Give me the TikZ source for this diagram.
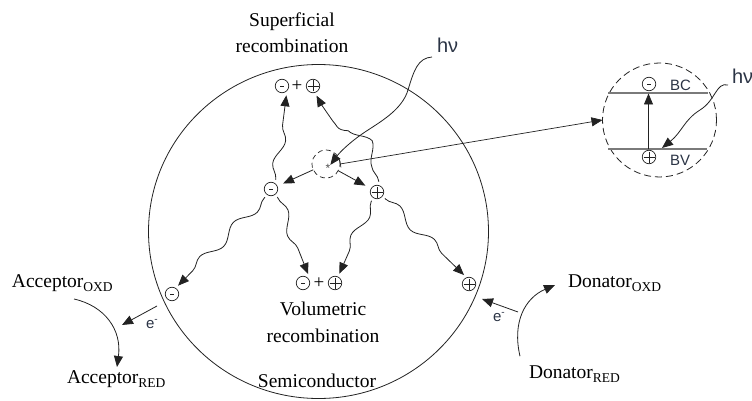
\documentclass[tikz,border=0pt]{standalone}
\usepackage{fontspec}
\setmainfont{Liberation Serif}
\newfontfamily\sansf{Liberation Sans}
\usetikzlibrary{arrows.meta,decorations.pathmorphing,calc}
\definecolor{ink}{HTML}{222222}
\definecolor{lab}{HTML}{2B3445}
\definecolor{bandgray}{HTML}{7A7A7A}
\newcommand{\bigtxt}{\fontsize{19.5}{23}\selectfont}
\newcommand{\subtxt}[1]{\raisebox{-4.5pt}{\fontsize{13.5}{14}\selectfont #1}}
\newcommand{\esup}{e\raisebox{6pt}{\fontsize{10}{10}\selectfont -}}
\begin{document}
\begin{tikzpicture}[x=1pt,y=-1pt,
  every node/.style={inner sep=0pt, outer sep=0pt},
  serif/.style={font=\bigtxt, text=black},
  sanslbl/.style={font=\sansf\fontsize{15}{16}\selectfont, text=lab},
  hvlbl/.style={font=\sansf\fontsize{20}{22}\selectfont, text=lab},
  elbl/.style={font=\sansf\fontsize{15}{16}\selectfont, text=lab},
  partic/.style={circle, draw=ink, line width=0.7pt, minimum size=13.5pt, outer sep=3.5pt},
  minus/.style={partic, path picture={\draw[ink, line width=0.7pt]
      ([xshift=-2pt]path picture bounding box.center) -- ([xshift=2pt]path picture bounding box.center);}},
  plus/.style={partic, path picture={\draw[ink, line width=0.7pt]
      ([yshift=-5.5pt]path picture bounding box.center) -- ([yshift=5.5pt]path picture bounding box.center)
      ([xshift=-5.5pt]path picture bounding box.center) -- ([xshift=5.5pt]path picture bounding box.center);}},
  plussign/.style={font=\fontsize{19}{19}\selectfont},
  arr/.style={draw=ink, line width=0.8pt, -{Triangle[length=11pt,width=9pt]}},
  wavy/.style={arr, decorate, decoration={snake, amplitude=5pt, segment length=48pt, pre length=1pt, post length=10pt}},
]
\useasboundingbox (0,0) rectangle (752,401);

% semiconductor particle
\draw[ink, line width=0.8pt] (318.5,231.5) ellipse [x radius=170, y radius=167];

% labels
\node[serif, anchor=base] (sup1) at (292,27) {Superficial};
\node[serif, anchor=base] (sup2) at (292,53) {recombination};
\node[serif, anchor=base] (vol1) at (323,315) {Volumetric};
\node[serif, anchor=base] (vol2) at (323,342) {recombination};
\node[serif, anchor=base] (semi) at (317,387) {Semiconductor};
\node[serif, anchor=base west] (aox) at (12,287) {Acceptor\subtxt{OXD}};
\node[serif, anchor=base west] (ared) at (67,383) {Acceptor\subtxt{RED}};
\node[serif, anchor=base west] (dox) at (568,287) {Donator\subtxt{OXD}};
\node[serif, anchor=base west] (dred) at (529,378) {Donator\subtxt{RED}};

% generation centre
\node[circle, draw=ink, line width=0.7pt, dash pattern=on 5pt off 3.5pt, minimum size=28pt] (c) at (326,164) {};
\node[font=\sansf\fontsize{12}{12}\selectfont, text=ink!80] (star) at (328,168) {*};

% particles
\node[minus] (m) at (271,189) {};
\node[plus] (p) at (377,192) {};
\node[minus] (sm) at (282,86) {};
\node[plussign] (spl) at (297,86) {+};
\node[plus] (sp) at (313,86) {};
\node[minus] (vm) at (303,283) {};
\node[plussign] (vpl) at (319,283) {+};
\node[plus] (vp) at (335,283) {};
\node[minus] (em) at (172,294) {};
\node[plus] (ep) at (469,284) {};

% photon
\node[hvlbl, anchor=base west] (hv1) at (437,53) {hν};
\draw[arr] ([xshift=-5pt,yshift=-4pt]hv1.base west) .. controls (418,58) and (414,70) .. (408,90)
  .. controls (402,110) and (380,122) .. (365,132)
  .. controls (350,142) and (340,152) .. (star);

% straight separation arrows
\draw[arr, shorten >=3pt] (c) -- (m);
\draw[arr, shorten >=3pt] (c) -- (p);

% wavy migration arrows
\draw[wavy] (m.63) -- (sm.-65);
\draw[wavy] (p.80) .. controls (374,140) and (338,140) .. (sp.-70);
\draw[wavy] (m.-126) -- (em.54);
\draw[wavy] (m.-51) -- (vm.60);
\draw[wavy] (p.-122) -- (vp.65);
\draw[wavy] (p.-39) -- (ep.119);

% inset
\node[circle, draw=ink, line width=0.8pt, dash pattern=on 7pt off 4pt, minimum size=114pt] (ins) at (659.5,120) {};
\draw[line width=0.7pt, draw=ink, {Bar[width=7pt]}-{Triangle[length=11pt,width=9pt]}] (c.east) -- (ins.west);
\coordinate (bcL) at (608,93);
\coordinate (bcR) at (708,93);
\coordinate (bvL) at (608,149);
\coordinate (bvR) at (707,149);
\draw[bandgray, line width=1.5pt] (bcL) -- (bcR);
\draw[bandgray, line width=1.5pt] (bvL) -- (bvR);
\node[minus] (im) at (649,84) {};
\node[plus] (ip) at (649,157) {};
\node[sanslbl, anchor=base west] (bc) at (670,91) {BC};
\node[sanslbl, anchor=base west] (bv) at (670,165) {BV};
\coordinate (vb) at (648.5,149);
\coordinate (vc) at (648.5,93.5);
\draw[arr] (vb) -- (vc);
\node[hvlbl, anchor=base west] (hv2) at (732,84) {hν};
\coordinate (bvt) at (662,148);
\draw[arr] ([xshift=-4pt,yshift=-1pt]hv2.base west) .. controls (716,82) and (716,100) .. (700,110)
  .. controls (684,120) and (682,132) .. (bvt);

% redox arrows
\draw[arr] ([xshift=62pt,yshift=-12pt]aox.base west) .. controls (105,306) and (122,330) .. ([xshift=50pt,yshift=16pt]ared.base west);
\draw[arr] ([xshift=-9pt,yshift=9pt]dred.north west) .. controls (512,322) and (525,298) .. ([xshift=-13pt,yshift=2pt]dox.base west);
\coordinate (ea1) at (157,306);
\coordinate (ea2) at (122,325);
\draw[arr] (ea1) -- (ea2);
\node[elbl, anchor=base west] (e1) at (146,328) {\esup};
\coordinate (ed1) at (518,312);
\coordinate (ed2) at (482,299);
\draw[arr] (ed1) -- (ed2);
\node[elbl, anchor=base west] (e2) at (493,321) {\esup};
\end{tikzpicture}
\end{document}
